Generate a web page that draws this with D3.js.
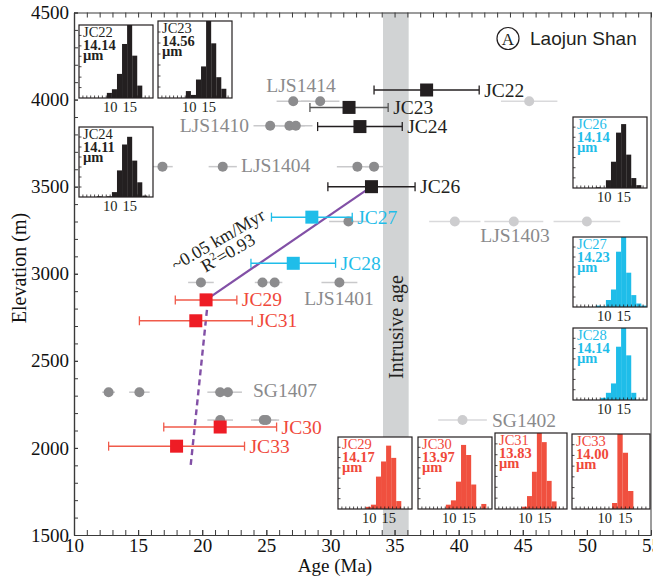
<!DOCTYPE html>
<html><head><meta charset="utf-8">
<script src="https://cdn.jsdelivr.net/npm/d3@7"></script>
<style>body{margin:0;background:#fff}</style>
</head><body><svg id="c" width="653" height="583"></svg>
<script>
// ---------- DATA ----------
const sampleNames = ["JC22","JC23","JC24","JC26","JC27","JC28","JC29","JC31","JC30","JC33"];
const sampleAges  = [37.5, 31.45, 32.3, 33.2, 28.55, 27.1, 20.3, 19.5, 21.4, 18.0];
const sampleErrs  = [4.1, 3.05, 3.3, 3.4, 3.15, 3.3, 2.4, 4.4, 4.4, 5.3];
const sampleElevs = [4055, 3955, 3845, 3500, 3325, 3060, 2850, 2730, 2120, 2010];
const sampleGroup = ["upper","upper","upper","upper","middle","middle","lower","lower","lower","lower"];

const grainSample = ["LJS1414","LJS1414","LJS1414","LJS1410","LJS1410","LJS1410","LJS1404","LJS1404","LJS1404","LJS1404",
  "LJS1403","LJS1403","LJS1403","LJS1403","LJS1401","LJS1401","LJS1401","LJS1401",
  "SG1407","SG1407","SG1407","SG1407","SG1402","SG1402","SG1402","SG1402"];
const grainAges = [27.1, 29.2, 45.5, 25.3, 26.8, 27.3, 16.9, 21.6, 32.1, 33.4,
  31.4, 39.7, 44.3, 50.0, 19.9, 24.7, 25.65, 30.7,
  12.7, 15.1, 21.4, 22.0, 21.4, 24.8, 25.0, 40.3];
const grainErrs = [1.3, 1.5, 2.2, 1.3, 1.2, 1.3, 0.8, 1.1, 1.6, 0.7,
  1.5, 2.0, 2.3, 2.6, 1.0, 0.6, 0.6, 1.4,
  0.5, 0.8, 1.0, 1.1, 1.0, 1.0, 1.0, 1.9];
const grainElevs = [3990,3990,3990, 3850,3850,3850, 3615,3615,3615,3615,
  3300,3300,3300,3300, 2950,2950,2950,2950,
  2320,2320,2320,2320, 2160,2160,2160,2160];
const grainOutlier = [0,0,1, 0,0,0, 0,0,0,0, 0,1,1,1, 0,0,0,0, 0,0,0,0, 0,0,0,1];

const grayLabelNames = ["LJS1414","LJS1410","LJS1404","LJS1403","LJS1401","SG1407","SG1402"];

const regAges  = [20.3, 33.2];
const regElevs = [2850, 3500];
const extAges  = [20.45, 19.1];
const extElevs = [2850, 1900];
const intrusiveAge = [34.1, 36.1];

const xTicksMajor = [10,15,20,25,30,35,40,45,50,55];
const yTicksMajor = [1500,2000,2500,3000,3500,4000,4500];

// inset histograms (grain width, µm; bar heights in % of panel height)
const binEdges = [6.55,7.85,9.15,10.45,11.75,13.05,14.35,15.65,16.95,18.25,19.55,20.85];
const insetNames = ["JC22","JC23","JC24","JC26","JC27","JC28","JC29","JC30","JC31","JC33"];
const insetMeans = ["14.14","14.56","14.11","14.14","14.23","14.14","14.17","13.97","13.83","14.00"];
const histJC22 = [0,0,7,12,33,74,100,58,17,0,0];
const histJC23 = [0,0,9,4,24,41,100,71,27,12,0];
const histJC24 = [1,0,1,7,38,75,86,52,21,2,0];
const histJC26 = [0,1,0,11,37,78,90,47,14,4,0];
const histJC27 = [0,2,1,10,25,79,100,49,17,5,2];
const histJC28 = [0,0,3,10,23,74,100,62,10,0,0];
const histJC29 = [0,0,3,6,45,66,88,71,11,0,0];
const histJC30 = [0,0,6,12,38,89,75,34,0,7,0];
const histJC31 = [0,0,3,17,49,100,88,37,10,0,0];
const histJC33 = [0,0,0,0,8,100,75,24,0,0,0];
const insetHists = [histJC22,histJC23,histJC24,histJC26,histJC27,histJC28,histJC29,histJC30,histJC31,histJC33];
const insetTicks = [10,15];

// ---------- LAYOUT / STYLE ----------
const SERIF = "'Liberation Serif','Times New Roman',serif";
const SANS = "'Liberation Sans',Arial,sans-serif";
const colors = {
  upper: "#231f20", middle: "#1fbde9", lower: "#ee1c25",
  upperBar: "#231f20", middleBar: "#1fbde9", lowerBar: "#f0503f",
  upperText: "#231f20", middleText: "#1fbde9", lowerText: "#f0483a",
  grain: "#8c8c8e", grainLine: "#c9c9cb", grainLight: "#cdcdcf", grainLightLine: "#d9d9db",
  grayText: "#8a8a8c", band: "#d1d3d4", purple: "#8250a6", axis: "#3a3a3a"
};
const grayLabelLayout = [
  {a:"middle", x:301, y:92},{a:"end", x:249, y:132},{a:"start", x:241, y:172},
  {a:"middle", x:515, y:242},{a:"middle", x:339, y:305},{a:"start", x:253, y:397},{a:"start", x:492, y:427}
];
// inset panel rectangles (pixels) + colour group for bars and text
const insetLayout = [
  {x:79, y:25, w:74, h:73, bar:"upper", txt:"upper"},
  {x:158, y:21, w:74, h:77, bar:"upper", txt:"upper"},
  {x:79, y:127, w:74, h:70, bar:"upper", txt:"upper"},
  {x:573, y:117, w:74, h:71, bar:"upper", txt:"middle"},
  {x:573, y:237, w:74, h:70, bar:"middle", txt:"middle"},
  {x:573, y:328, w:74, h:72, bar:"middle", txt:"middle"},
  {x:338, y:437, w:74, h:72, bar:"lower", txt:"lower"},
  {x:418, y:437, w:74, h:72, bar:"lower", txt:"lower"},
  {x:495, y:433, w:72, h:76, bar:"lower", txt:"lower"},
  {x:572, y:434, w:78, h:75, bar:"lower", txt:"lower"}
];

const svg = d3.select("#c");
const L = 74, R = 651, T = 12.5, B = 535;
const x = d3.scaleLinear().domain([10,55]).range([L,R]);
const y = d3.scaleLinear().domain([1500,4500]).range([B,T]);

// intrusive age band
svg.append("rect").attr("x", x(intrusiveAge[0])).attr("y", T)
  .attr("width", x(intrusiveAge[1]) - x(intrusiveAge[0])).attr("height", B - T)
  .attr("fill", colors.band);
svg.append("text").attr("transform", `translate(${(x(intrusiveAge[0])+x(intrusiveAge[1]))/2+7},327) rotate(-90)`)
  .attr("text-anchor","middle").attr("font-family",SERIF).attr("font-size",20).attr("fill","#231f20")
  .text("Intrusive age");

// axes
const minorX = d3.range(10,56,1);
const minorY = d3.range(1500,4501,100);
const axG = svg.append("g").attr("color", colors.axis);
axG.append("g").attr("transform",`translate(0,${B})`)
  .call(d3.axisBottom(x).tickValues(minorX).tickSizeInner(-5).tickSizeOuter(0).tickFormat(""));
axG.append("g").attr("transform",`translate(0,${B})`)
  .call(d3.axisBottom(x).tickValues(xTicksMajor).tickSizeInner(-5).tickSizeOuter(0).tickPadding(4).tickFormat(d3.format("d")))
  .call(g=>g.selectAll("text").attr("font-family",SERIF).attr("font-size",19).attr("fill","#111"));
axG.append("g").attr("transform",`translate(0,${T})`)
  .call(d3.axisTop(x).tickValues(minorX).tickSizeInner(-5).tickSizeOuter(0).tickFormat(""));
axG.append("g").attr("transform",`translate(${L},0)`)
  .call(d3.axisLeft(y).tickValues(minorY).tickSizeInner(-4).tickSizeOuter(0).tickFormat(""));
axG.append("g").attr("transform",`translate(${L},0)`)
  .call(d3.axisLeft(y).tickValues(yTicksMajor).tickSizeInner(-4).tickSizeOuter(0).tickPadding(5).tickFormat(d3.format("d")))
  .call(g=>g.selectAll("text").attr("font-family",SERIF).attr("font-size",19).attr("fill","#111"));
axG.append("line").attr("x1",R).attr("x2",R).attr("y1",T).attr("y2",B).attr("stroke",colors.axis);
axG.selectAll("path.domain").attr("stroke-width",1.2);

svg.append("text").attr("x",335).attr("y",572).attr("text-anchor","middle")
  .attr("font-family",SERIF).attr("font-size",19).attr("fill","#111").text("Age (Ma)");
svg.append("text").attr("transform","translate(26,268) rotate(-90)").attr("text-anchor","middle")
  .attr("font-family",SERIF).attr("font-size",20).attr("fill","#111").text("Elevation (m)");

// regression lines
svg.append("line").attr("x1",x(regAges[0])).attr("y1",y(regElevs[0])).attr("x2",x(regAges[1])).attr("y2",y(regElevs[1]))
  .attr("stroke",colors.purple).attr("stroke-width",2.2);
svg.append("line").attr("x1",x(extAges[0])).attr("y1",y(extElevs[0])).attr("x2",x(extAges[1])).attr("y2",y(extElevs[1]))
  .attr("stroke",colors.purple).attr("stroke-width",2.4).attr("stroke-dasharray","6,4");
const rt = svg.append("g").attr("font-family",SERIF).attr("font-size",18).attr("fill","#231f20");
rt.append("text").attr("transform","translate(221,245) rotate(-30)").attr("text-anchor","middle").text("~0.05 km/Myr");
const r2 = rt.append("text").attr("transform","translate(231,258) rotate(-30)").attr("text-anchor","middle");
r2.append("tspan").text("R");
r2.append("tspan").attr("font-size",11).attr("dy",-7).text("2");
r2.append("tspan").attr("dy",7).text("=0.93");

// grain ages (gray)
const grains = grainAges.map((a,i)=>({a, e:grainErrs[i], z:grainElevs[i], o:grainOutlier[i]}));
svg.append("g").selectAll("line").data(grains).join("line")
  .attr("x1",d=>x(d.a-d.e)).attr("x2",d=>x(d.a+d.e)).attr("y1",d=>y(d.z)).attr("y2",d=>y(d.z))
  .attr("stroke",d=>d.o?colors.grainLightLine:colors.grainLine).attr("stroke-width",1.5);
svg.append("g").selectAll("circle").data(grains).join("circle")
  .attr("cx",d=>x(d.a)).attr("cy",d=>y(d.z)).attr("r",5)
  .attr("fill",d=>d.o?colors.grainLight:colors.grain);
svg.append("g").selectAll("text").data(grayLabelNames).join("text")
  .attr("x",(d,i)=>grayLabelLayout[i].x).attr("y",(d,i)=>grayLabelLayout[i].y)
  .attr("text-anchor",(d,i)=>grayLabelLayout[i].a)
  .attr("font-family",SERIF).attr("font-size",19.5).attr("fill",colors.grayText).text(d=>d);

// sample ages with error bars
const samples = sampleNames.map((n,i)=>({n, a:sampleAges[i], e:sampleErrs[i], z:sampleElevs[i], g:sampleGroup[i]}));
const sg = svg.append("g");
const errCol = d => d.g==="lower" ? "#f05a4a" : (d.n==="JC23" ? "#555" : colors[d.g]);
sg.selectAll("line.eb").data(samples).join("line").attr("class","eb")
  .attr("x1",d=>x(d.a-d.e)).attr("x2",d=>x(d.a+d.e)).attr("y1",d=>y(d.z)).attr("y2",d=>y(d.z))
  .attr("stroke",errCol).attr("stroke-width",1.5);
["-","+"].forEach(s=>{
  sg.selectAll("line.cap"+(s==="-"?"l":"r")).data(samples).join("line").attr("class","cap"+(s==="-"?"l":"r"))
    .attr("x1",d=>x(s==="-"?d.a-d.e:d.a+d.e)).attr("x2",d=>x(s==="-"?d.a-d.e:d.a+d.e))
    .attr("y1",d=>y(d.z)-4.5).attr("y2",d=>y(d.z)+4.5)
    .attr("stroke",errCol).attr("stroke-width",1.3);
});
sg.selectAll("rect").data(samples).join("rect")
  .attr("x",d=>x(d.a)-6.5).attr("y",d=>y(d.z)-6.5).attr("width",13).attr("height",13)
  .attr("fill",d=>colors[d.g]);
sg.selectAll("text").data(samples).join("text")
  .attr("x",d=>x(d.a+d.e)+5).attr("y",d=>y(d.z)+6.5)
  .attr("font-family",SERIF).attr("font-size",19.5).attr("fill",d=>colors[d.g+"Text"]).text(d=>d.n);

// insets
insetNames.forEach((name,i)=>{
  const lay = insetLayout[i];
  const g = svg.append("g").attr("transform",`translate(${lay.x},${lay.y})`);
  g.append("rect").attr("width",lay.w).attr("height",lay.h).attr("fill","#fff");
  const ix = d3.scaleLinear().domain([2,21]).range([0,lay.w]);
  const iy = d3.scaleLinear().domain([0,100]).range([lay.h,0]);
  const bins = insetHists[i].map((v,k)=>({x0:binEdges[k], x1:binEdges[k+1], v})).filter(b=>b.v>0);
  g.selectAll("rect.b").data(bins).join("rect").attr("class","b")
    .attr("x",b=>ix(b.x0)).attr("width",b=>ix(b.x1)-ix(b.x0)).attr("y",b=>iy(b.v)).attr("height",b=>lay.h-iy(b.v))
    .attr("fill",colors[lay.bar+"Bar"]);
  // ticks
  g.selectAll("line.bt").data(d3.range(3,21,1)).join("line").attr("class","bt")
    .attr("x1",d=>ix(d)).attr("x2",d=>ix(d)).attr("y1",lay.h).attr("y2",lay.h-2.5).attr("stroke","#231f20").attr("stroke-width",0.8);
  g.selectAll("line.lt").data(d3.range(1,7)).join("line").attr("class","lt")
    .attr("x1",0).attr("x2",2.5).attr("y1",d=>lay.h - d*lay.h/7).attr("y2",d=>lay.h - d*lay.h/7).attr("stroke","#231f20").attr("stroke-width",0.8);
  g.append("rect").attr("width",lay.w).attr("height",lay.h).attr("fill","none").attr("stroke","#231f20").attr("stroke-width",1.2);
  g.selectAll("text.tl").data(insetTicks).join("text").attr("class","tl")
    .attr("x",d=>ix(d)).attr("y",lay.h+14).attr("text-anchor","middle")
    .attr("font-family",SERIF).attr("font-size",14.5).attr("fill","#231f20").text(d=>d);
  const tc = colors[lay.txt+"Text"];
  g.append("text").attr("x",4).attr("y",12).attr("font-family",SERIF).attr("font-size",14.5).attr("fill",tc).text(name);
  g.append("text").attr("x",4).attr("y",24.5).attr("font-family",SERIF).attr("font-size",14.5).attr("font-weight","bold").attr("fill",tc).text(insetMeans[i]);
  g.append("text").attr("x",4).attr("y",35).attr("font-family",SERIF).attr("font-size",14.5).attr("font-weight","bold").attr("fill",tc).text("µm");
});

// title
svg.append("circle").attr("cx",508).attr("cy",38.5).attr("r",11).attr("fill","none").attr("stroke","#231f20").attr("stroke-width",1.2);
svg.append("text").attr("x",508).attr("y",44.5).attr("text-anchor","middle").attr("font-family",SERIF).attr("font-size",17).attr("fill","#231f20").text("A");
svg.append("text").attr("x",530).attr("y",45).attr("font-family",SANS).attr("font-size",19).attr("fill","#231f20").text("Laojun Shan");
</script></body></html>
